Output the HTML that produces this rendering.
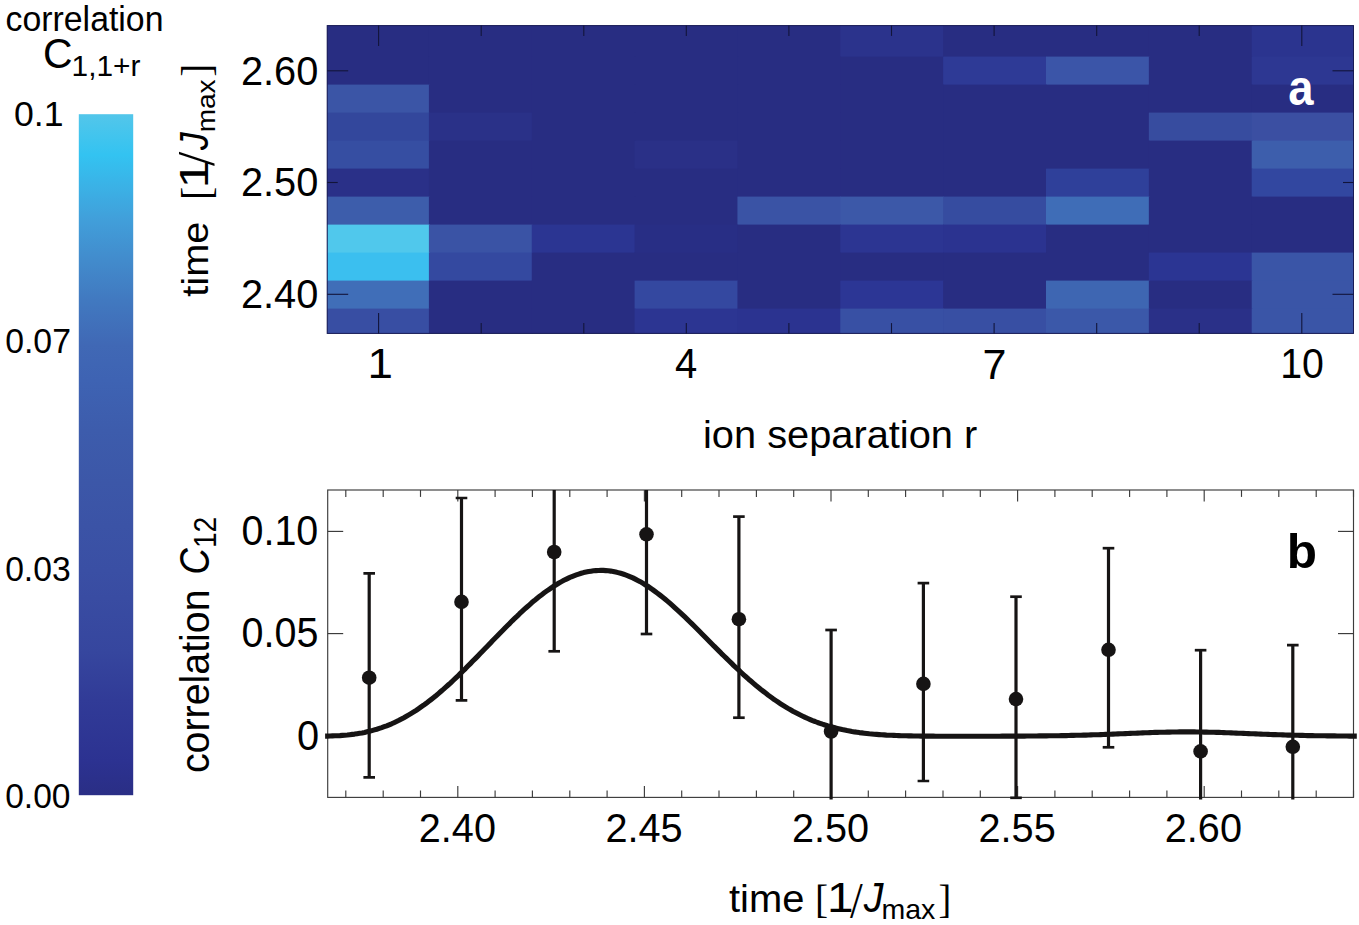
<!DOCTYPE html>
<html><head><meta charset="utf-8"><title>figure</title>
<style>html,body{margin:0;padding:0;background:#fff}svg{display:block}text{font-family:"Liberation Sans",sans-serif}text.s{font-family:"Liberation Serif",serif}</style></head>
<body><svg width="1359" height="925" viewBox="0 0 1359 925">
<rect width="1359" height="925" fill="#fff"/>
<defs><linearGradient id="cb" x1="0" y1="1" x2="0" y2="0">
<stop offset="0.000" stop-color="#2A2E85"/>
<stop offset="0.050" stop-color="#2C3291"/>
<stop offset="0.140" stop-color="#313B97"/>
<stop offset="0.210" stop-color="#36469E"/>
<stop offset="0.290" stop-color="#394CA2"/>
<stop offset="0.330" stop-color="#3A4FA4"/>
<stop offset="0.460" stop-color="#3C57A8"/>
<stop offset="0.535" stop-color="#3D5CAC"/>
<stop offset="0.610" stop-color="#3E63B3"/>
<stop offset="0.660" stop-color="#4068B5"/>
<stop offset="0.727" stop-color="#4179C0"/>
<stop offset="0.785" stop-color="#428BCC"/>
<stop offset="0.845" stop-color="#419FDA"/>
<stop offset="0.890" stop-color="#3BB0E5"/>
<stop offset="0.940" stop-color="#33C3F1"/>
<stop offset="1.000" stop-color="#53C6EA"/>
</linearGradient></defs>
<rect x="78.8" y="114.2" width="54.4" height="681.0" fill="url(#cb)"/>
<text transform="translate(5.56,30.96) scale(0.08459,0.08571)" font-size="400" fill="#000" >correlation</text>
<text transform="translate(42.95,68.38) scale(0.10237,0.10495)" font-size="400" fill="#000" >C</text>
<text transform="translate(71.56,75.96) scale(0.07463,0.07439)" font-size="400" fill="#000" >1,1+r</text>
<text transform="translate(14.02,126.24) scale(0.08910,0.08958)" font-size="400" fill="#000" >0.1</text>
<text transform="translate(5.15,353.34) scale(0.08450,0.08905)" font-size="400" fill="#000" >0.07</text>
<text transform="translate(5.15,580.64) scale(0.08416,0.08905)" font-size="400" fill="#000" >0.03</text>
<text transform="translate(5.16,807.74) scale(0.08394,0.08887)" font-size="400" fill="#000" >0.00</text>
<rect x="327.2" y="25.6" width="1026.3" height="307.8" fill="#282D82"/>
<rect x="327.20" y="25.60" width="102.40" height="31.70" fill="#282D82"/>
<rect x="428.90" y="25.60" width="103.55" height="31.70" fill="#282D82"/>
<rect x="531.75" y="25.60" width="103.55" height="31.70" fill="#282D82"/>
<rect x="634.60" y="25.60" width="103.55" height="31.70" fill="#282D82"/>
<rect x="737.45" y="25.60" width="103.55" height="31.70" fill="#282D82"/>
<rect x="840.30" y="25.60" width="103.55" height="31.70" fill="#2B338C"/>
<rect x="943.15" y="25.60" width="103.55" height="31.70" fill="#282D82"/>
<rect x="1046.00" y="25.60" width="103.55" height="31.70" fill="#282D82"/>
<rect x="1148.85" y="25.60" width="103.55" height="31.70" fill="#282D82"/>
<rect x="1251.70" y="25.60" width="101.80" height="31.70" fill="#2B348F"/>
<rect x="327.20" y="56.60" width="102.40" height="28.70" fill="#282D82"/>
<rect x="428.90" y="56.60" width="103.55" height="28.70" fill="#282D82"/>
<rect x="531.75" y="56.60" width="103.55" height="28.70" fill="#282D82"/>
<rect x="634.60" y="56.60" width="103.55" height="28.70" fill="#282D82"/>
<rect x="737.45" y="56.60" width="103.55" height="28.70" fill="#282D82"/>
<rect x="840.30" y="56.60" width="103.55" height="28.70" fill="#282D82"/>
<rect x="943.15" y="56.60" width="103.55" height="28.70" fill="#2E3A96"/>
<rect x="1046.00" y="56.60" width="103.55" height="28.70" fill="#3B55A8"/>
<rect x="1148.85" y="56.60" width="103.55" height="28.70" fill="#282D82"/>
<rect x="1251.70" y="56.60" width="101.80" height="28.70" fill="#2D3792"/>
<rect x="327.20" y="84.60" width="102.40" height="28.70" fill="#3B55A6"/>
<rect x="428.90" y="84.60" width="103.55" height="28.70" fill="#282D82"/>
<rect x="531.75" y="84.60" width="103.55" height="28.70" fill="#282D82"/>
<rect x="634.60" y="84.60" width="103.55" height="28.70" fill="#282D82"/>
<rect x="737.45" y="84.60" width="103.55" height="28.70" fill="#282D82"/>
<rect x="840.30" y="84.60" width="103.55" height="28.70" fill="#282D82"/>
<rect x="943.15" y="84.60" width="103.55" height="28.70" fill="#282D82"/>
<rect x="1046.00" y="84.60" width="103.55" height="28.70" fill="#282D82"/>
<rect x="1148.85" y="84.60" width="103.55" height="28.70" fill="#282D82"/>
<rect x="1251.70" y="84.60" width="101.80" height="28.70" fill="#282D82"/>
<rect x="327.20" y="112.60" width="102.40" height="28.70" fill="#33479C"/>
<rect x="428.90" y="112.60" width="103.55" height="28.70" fill="#2A3188"/>
<rect x="531.75" y="112.60" width="103.55" height="28.70" fill="#282D82"/>
<rect x="634.60" y="112.60" width="103.55" height="28.70" fill="#282D82"/>
<rect x="737.45" y="112.60" width="103.55" height="28.70" fill="#282D82"/>
<rect x="840.30" y="112.60" width="103.55" height="28.70" fill="#282D82"/>
<rect x="943.15" y="112.60" width="103.55" height="28.70" fill="#282D82"/>
<rect x="1046.00" y="112.60" width="103.55" height="28.70" fill="#282D82"/>
<rect x="1148.85" y="112.60" width="103.55" height="28.70" fill="#374C9F"/>
<rect x="1251.70" y="112.60" width="101.80" height="28.70" fill="#3B4FA2"/>
<rect x="327.20" y="140.60" width="102.40" height="28.70" fill="#364EA2"/>
<rect x="428.90" y="140.60" width="103.55" height="28.70" fill="#282D82"/>
<rect x="531.75" y="140.60" width="103.55" height="28.70" fill="#282D82"/>
<rect x="634.60" y="140.60" width="103.55" height="28.70" fill="#2A3087"/>
<rect x="737.45" y="140.60" width="103.55" height="28.70" fill="#282D82"/>
<rect x="840.30" y="140.60" width="103.55" height="28.70" fill="#282D82"/>
<rect x="943.15" y="140.60" width="103.55" height="28.70" fill="#282D82"/>
<rect x="1046.00" y="140.60" width="103.55" height="28.70" fill="#282D82"/>
<rect x="1148.85" y="140.60" width="103.55" height="28.70" fill="#282D82"/>
<rect x="1251.70" y="140.60" width="101.80" height="28.70" fill="#3D5EAC"/>
<rect x="327.20" y="168.60" width="102.40" height="28.70" fill="#2A3088"/>
<rect x="428.90" y="168.60" width="103.55" height="28.70" fill="#282D82"/>
<rect x="531.75" y="168.60" width="103.55" height="28.70" fill="#282D82"/>
<rect x="634.60" y="168.60" width="103.55" height="28.70" fill="#282D82"/>
<rect x="737.45" y="168.60" width="103.55" height="28.70" fill="#282D82"/>
<rect x="840.30" y="168.60" width="103.55" height="28.70" fill="#282D82"/>
<rect x="943.15" y="168.60" width="103.55" height="28.70" fill="#282D82"/>
<rect x="1046.00" y="168.60" width="103.55" height="28.70" fill="#2F409A"/>
<rect x="1148.85" y="168.60" width="103.55" height="28.70" fill="#282D82"/>
<rect x="1251.70" y="168.60" width="101.80" height="28.70" fill="#3247A0"/>
<rect x="327.20" y="196.60" width="102.40" height="28.70" fill="#3D5DAB"/>
<rect x="428.90" y="196.60" width="103.55" height="28.70" fill="#282D82"/>
<rect x="531.75" y="196.60" width="103.55" height="28.70" fill="#282D82"/>
<rect x="634.60" y="196.60" width="103.55" height="28.70" fill="#282D82"/>
<rect x="737.45" y="196.60" width="103.55" height="28.70" fill="#3A53A5"/>
<rect x="840.30" y="196.60" width="103.55" height="28.70" fill="#3C58A8"/>
<rect x="943.15" y="196.60" width="103.55" height="28.70" fill="#364CA0"/>
<rect x="1046.00" y="196.60" width="103.55" height="28.70" fill="#3F6DB7"/>
<rect x="1148.85" y="196.60" width="103.55" height="28.70" fill="#282D82"/>
<rect x="1251.70" y="196.60" width="101.80" height="28.70" fill="#282D82"/>
<rect x="327.20" y="224.60" width="102.40" height="28.70" fill="#50C8EC"/>
<rect x="428.90" y="224.60" width="103.55" height="28.70" fill="#3A53A5"/>
<rect x="531.75" y="224.60" width="103.55" height="28.70" fill="#2B3592"/>
<rect x="634.60" y="224.60" width="103.55" height="28.70" fill="#282E85"/>
<rect x="737.45" y="224.60" width="103.55" height="28.70" fill="#282D82"/>
<rect x="840.30" y="224.60" width="103.55" height="28.70" fill="#2C3592"/>
<rect x="943.15" y="224.60" width="103.55" height="28.70" fill="#2B3390"/>
<rect x="1046.00" y="224.60" width="103.55" height="28.70" fill="#282D82"/>
<rect x="1148.85" y="224.60" width="103.55" height="28.70" fill="#282D82"/>
<rect x="1251.70" y="224.60" width="101.80" height="28.70" fill="#282D82"/>
<rect x="327.20" y="252.60" width="102.40" height="28.70" fill="#3BBFEF"/>
<rect x="428.90" y="252.60" width="103.55" height="28.70" fill="#3449A0"/>
<rect x="531.75" y="252.60" width="103.55" height="28.70" fill="#282D82"/>
<rect x="634.60" y="252.60" width="103.55" height="28.70" fill="#282D82"/>
<rect x="737.45" y="252.60" width="103.55" height="28.70" fill="#282D82"/>
<rect x="840.30" y="252.60" width="103.55" height="28.70" fill="#282D82"/>
<rect x="943.15" y="252.60" width="103.55" height="28.70" fill="#282D82"/>
<rect x="1046.00" y="252.60" width="103.55" height="28.70" fill="#282D82"/>
<rect x="1148.85" y="252.60" width="103.55" height="28.70" fill="#2B3593"/>
<rect x="1251.70" y="252.60" width="101.80" height="28.70" fill="#3A55A7"/>
<rect x="327.20" y="280.60" width="102.40" height="28.70" fill="#406EB8"/>
<rect x="428.90" y="280.60" width="103.55" height="28.70" fill="#282D82"/>
<rect x="531.75" y="280.60" width="103.55" height="28.70" fill="#282D82"/>
<rect x="634.60" y="280.60" width="103.55" height="28.70" fill="#3448A0"/>
<rect x="737.45" y="280.60" width="103.55" height="28.70" fill="#282D82"/>
<rect x="840.30" y="280.60" width="103.55" height="28.70" fill="#2C3695"/>
<rect x="943.15" y="280.60" width="103.55" height="28.70" fill="#282D82"/>
<rect x="1046.00" y="280.60" width="103.55" height="28.70" fill="#3E66B2"/>
<rect x="1148.85" y="280.60" width="103.55" height="28.70" fill="#282D82"/>
<rect x="1251.70" y="280.60" width="101.80" height="28.70" fill="#3A55A7"/>
<rect x="327.20" y="308.60" width="102.40" height="24.80" fill="#384EA3"/>
<rect x="428.90" y="308.60" width="103.55" height="24.80" fill="#282D82"/>
<rect x="531.75" y="308.60" width="103.55" height="24.80" fill="#282D82"/>
<rect x="634.60" y="308.60" width="103.55" height="24.80" fill="#2C3592"/>
<rect x="737.45" y="308.60" width="103.55" height="24.80" fill="#2B3390"/>
<rect x="840.30" y="308.60" width="103.55" height="24.80" fill="#3850A4"/>
<rect x="943.15" y="308.60" width="103.55" height="24.80" fill="#384FA3"/>
<rect x="1046.00" y="308.60" width="103.55" height="24.80" fill="#3B58A9"/>
<rect x="1148.85" y="308.60" width="103.55" height="24.80" fill="#2A3088"/>
<rect x="1251.70" y="308.60" width="101.80" height="24.80" fill="#3A55A7"/>
<rect x="327.2" y="25.6" width="1026.3" height="307.8" fill="none" stroke="#191C55" stroke-width="1"/>
<line x1="378.6" y1="25.6" x2="378.6" y2="46.1" stroke="#12143A" stroke-width="1.1"/>
<line x1="378.6" y1="333.4" x2="378.6" y2="312.9" stroke="#12143A" stroke-width="1.1"/>
<line x1="481.2" y1="25.6" x2="481.2" y2="35.9" stroke="#12143A" stroke-width="1.1"/>
<line x1="481.2" y1="333.4" x2="481.2" y2="323.1" stroke="#12143A" stroke-width="1.1"/>
<line x1="583.8" y1="25.6" x2="583.8" y2="35.9" stroke="#12143A" stroke-width="1.1"/>
<line x1="583.8" y1="333.4" x2="583.8" y2="323.1" stroke="#12143A" stroke-width="1.1"/>
<line x1="686.3" y1="25.6" x2="686.3" y2="35.9" stroke="#12143A" stroke-width="1.1"/>
<line x1="686.3" y1="333.4" x2="686.3" y2="323.1" stroke="#12143A" stroke-width="1.1"/>
<line x1="788.9" y1="25.6" x2="788.9" y2="35.9" stroke="#12143A" stroke-width="1.1"/>
<line x1="788.9" y1="333.4" x2="788.9" y2="323.1" stroke="#12143A" stroke-width="1.1"/>
<line x1="891.5" y1="25.6" x2="891.5" y2="35.9" stroke="#12143A" stroke-width="1.1"/>
<line x1="891.5" y1="333.4" x2="891.5" y2="323.1" stroke="#12143A" stroke-width="1.1"/>
<line x1="994.1" y1="25.6" x2="994.1" y2="35.9" stroke="#12143A" stroke-width="1.1"/>
<line x1="994.1" y1="333.4" x2="994.1" y2="323.1" stroke="#12143A" stroke-width="1.1"/>
<line x1="1096.7" y1="25.6" x2="1096.7" y2="35.9" stroke="#12143A" stroke-width="1.1"/>
<line x1="1096.7" y1="333.4" x2="1096.7" y2="323.1" stroke="#12143A" stroke-width="1.1"/>
<line x1="1199.2" y1="25.6" x2="1199.2" y2="35.9" stroke="#12143A" stroke-width="1.1"/>
<line x1="1199.2" y1="333.4" x2="1199.2" y2="323.1" stroke="#12143A" stroke-width="1.1"/>
<line x1="1301.8" y1="25.6" x2="1301.8" y2="46.1" stroke="#12143A" stroke-width="1.1"/>
<line x1="1301.8" y1="333.4" x2="1301.8" y2="312.9" stroke="#12143A" stroke-width="1.1"/>
<line x1="327.2" y1="70.8" x2="348.2" y2="70.8" stroke="#12143A" stroke-width="1.1"/>
<line x1="1353.5" y1="70.8" x2="1332.5" y2="70.8" stroke="#12143A" stroke-width="1.1"/>
<line x1="327.2" y1="182.5" x2="337.7" y2="182.5" stroke="#12143A" stroke-width="1.1"/>
<line x1="1353.5" y1="182.5" x2="1343.0" y2="182.5" stroke="#12143A" stroke-width="1.1"/>
<line x1="327.2" y1="294.3" x2="348.2" y2="294.3" stroke="#12143A" stroke-width="1.1"/>
<line x1="1353.5" y1="294.3" x2="1332.5" y2="294.3" stroke="#12143A" stroke-width="1.1"/>
<text transform="translate(240.91,84.59) scale(0.09946,0.10318)" font-size="400" fill="#000" >2.60</text>
<text transform="translate(240.91,196.49) scale(0.09946,0.10318)" font-size="400" fill="#000" >2.50</text>
<text transform="translate(240.91,308.39) scale(0.09946,0.10318)" font-size="400" fill="#000" >2.40</text>
<text transform="translate(367.56,378.40) scale(0.11429,0.10691)" font-size="400" fill="#000" >1</text>
<text transform="translate(675.00,378.40) scale(0.10000,0.10509)" font-size="400" fill="#000" >4</text>
<text transform="translate(982.44,378.60) scale(0.10773,0.10436)" font-size="400" fill="#000" >7</text>
<text transform="translate(1280.27,378.48) scale(0.09821,0.10565)" font-size="400" fill="#000" >10</text>
<text transform="translate(703.01,447.63) scale(0.09949,0.09839)" font-size="400" fill="#000" >ion separation r</text>
<text transform="translate(1288.34,104.81) scale(0.11362,0.12374)" font-size="400" fill="#fff"  font-weight="bold">a</text>
<text transform="translate(208.13,296.70) rotate(-90) scale(0.09918,0.09354)" font-size="400" fill="#000" >time</text>
<text transform="translate(209.54,199.97) rotate(-90) scale(0.09888,0.10301)" font-size="400" fill="#000" class="s">[</text>
<text transform="translate(207.80,188.13) rotate(-90) scale(0.12449,0.10000)" font-size="400" fill="#000" >1</text>
<text transform="translate(214.08,165.90) rotate(-90) scale(0.12883,0.12985)" font-size="400" fill="#000" class="s">/</text>
<text transform="translate(207.89,149.91) rotate(-90) scale(0.08873,0.10215)" font-size="400" fill="#000"  font-style="italic">J</text>
<text transform="translate(215.33,132.29) rotate(-90) scale(0.07003,0.06667)" font-size="400" fill="#000" >max</text>
<text transform="translate(209.54,76.74) rotate(-90) scale(0.09556,0.10301)" font-size="400" fill="#000" class="s">]</text>
<clipPath id="pc"><rect x="324.7" y="490.0" width="1031.8" height="309.6"/></clipPath>
<rect x="327.7" y="490.0" width="1025.8" height="307.4" fill="none" stroke="#3c3c3c" stroke-width="1.15"/>
<line x1="345.8" y1="797.4" x2="345.8" y2="790.5" stroke="#3c3c3c" stroke-width="1.15"/>
<line x1="345.8" y1="490.0" x2="345.8" y2="496.9" stroke="#3c3c3c" stroke-width="1.15"/>
<line x1="383.2" y1="797.4" x2="383.2" y2="790.5" stroke="#3c3c3c" stroke-width="1.15"/>
<line x1="383.2" y1="490.0" x2="383.2" y2="496.9" stroke="#3c3c3c" stroke-width="1.15"/>
<line x1="420.5" y1="797.4" x2="420.5" y2="790.5" stroke="#3c3c3c" stroke-width="1.15"/>
<line x1="420.5" y1="490.0" x2="420.5" y2="496.9" stroke="#3c3c3c" stroke-width="1.15"/>
<line x1="457.8" y1="797.4" x2="457.8" y2="785.9" stroke="#3c3c3c" stroke-width="1.15"/>
<line x1="457.8" y1="490.0" x2="457.8" y2="501.5" stroke="#3c3c3c" stroke-width="1.15"/>
<line x1="495.1" y1="797.4" x2="495.1" y2="790.5" stroke="#3c3c3c" stroke-width="1.15"/>
<line x1="495.1" y1="490.0" x2="495.1" y2="496.9" stroke="#3c3c3c" stroke-width="1.15"/>
<line x1="532.4" y1="797.4" x2="532.4" y2="790.5" stroke="#3c3c3c" stroke-width="1.15"/>
<line x1="532.4" y1="490.0" x2="532.4" y2="496.9" stroke="#3c3c3c" stroke-width="1.15"/>
<line x1="569.8" y1="797.4" x2="569.8" y2="790.5" stroke="#3c3c3c" stroke-width="1.15"/>
<line x1="569.8" y1="490.0" x2="569.8" y2="496.9" stroke="#3c3c3c" stroke-width="1.15"/>
<line x1="607.1" y1="797.4" x2="607.1" y2="790.5" stroke="#3c3c3c" stroke-width="1.15"/>
<line x1="607.1" y1="490.0" x2="607.1" y2="496.9" stroke="#3c3c3c" stroke-width="1.15"/>
<line x1="644.4" y1="797.4" x2="644.4" y2="785.9" stroke="#3c3c3c" stroke-width="1.15"/>
<line x1="644.4" y1="490.0" x2="644.4" y2="501.5" stroke="#3c3c3c" stroke-width="1.15"/>
<line x1="681.7" y1="797.4" x2="681.7" y2="790.5" stroke="#3c3c3c" stroke-width="1.15"/>
<line x1="681.7" y1="490.0" x2="681.7" y2="496.9" stroke="#3c3c3c" stroke-width="1.15"/>
<line x1="719.0" y1="797.4" x2="719.0" y2="790.5" stroke="#3c3c3c" stroke-width="1.15"/>
<line x1="719.0" y1="490.0" x2="719.0" y2="496.9" stroke="#3c3c3c" stroke-width="1.15"/>
<line x1="756.4" y1="797.4" x2="756.4" y2="790.5" stroke="#3c3c3c" stroke-width="1.15"/>
<line x1="756.4" y1="490.0" x2="756.4" y2="496.9" stroke="#3c3c3c" stroke-width="1.15"/>
<line x1="793.7" y1="797.4" x2="793.7" y2="790.5" stroke="#3c3c3c" stroke-width="1.15"/>
<line x1="793.7" y1="490.0" x2="793.7" y2="496.9" stroke="#3c3c3c" stroke-width="1.15"/>
<line x1="831.0" y1="797.4" x2="831.0" y2="785.9" stroke="#3c3c3c" stroke-width="1.15"/>
<line x1="831.0" y1="490.0" x2="831.0" y2="501.5" stroke="#3c3c3c" stroke-width="1.15"/>
<line x1="868.3" y1="797.4" x2="868.3" y2="790.5" stroke="#3c3c3c" stroke-width="1.15"/>
<line x1="868.3" y1="490.0" x2="868.3" y2="496.9" stroke="#3c3c3c" stroke-width="1.15"/>
<line x1="905.6" y1="797.4" x2="905.6" y2="790.5" stroke="#3c3c3c" stroke-width="1.15"/>
<line x1="905.6" y1="490.0" x2="905.6" y2="496.9" stroke="#3c3c3c" stroke-width="1.15"/>
<line x1="943.0" y1="797.4" x2="943.0" y2="790.5" stroke="#3c3c3c" stroke-width="1.15"/>
<line x1="943.0" y1="490.0" x2="943.0" y2="496.9" stroke="#3c3c3c" stroke-width="1.15"/>
<line x1="980.3" y1="797.4" x2="980.3" y2="790.5" stroke="#3c3c3c" stroke-width="1.15"/>
<line x1="980.3" y1="490.0" x2="980.3" y2="496.9" stroke="#3c3c3c" stroke-width="1.15"/>
<line x1="1017.6" y1="797.4" x2="1017.6" y2="785.9" stroke="#3c3c3c" stroke-width="1.15"/>
<line x1="1017.6" y1="490.0" x2="1017.6" y2="501.5" stroke="#3c3c3c" stroke-width="1.15"/>
<line x1="1054.9" y1="797.4" x2="1054.9" y2="790.5" stroke="#3c3c3c" stroke-width="1.15"/>
<line x1="1054.9" y1="490.0" x2="1054.9" y2="496.9" stroke="#3c3c3c" stroke-width="1.15"/>
<line x1="1092.2" y1="797.4" x2="1092.2" y2="790.5" stroke="#3c3c3c" stroke-width="1.15"/>
<line x1="1092.2" y1="490.0" x2="1092.2" y2="496.9" stroke="#3c3c3c" stroke-width="1.15"/>
<line x1="1129.6" y1="797.4" x2="1129.6" y2="790.5" stroke="#3c3c3c" stroke-width="1.15"/>
<line x1="1129.6" y1="490.0" x2="1129.6" y2="496.9" stroke="#3c3c3c" stroke-width="1.15"/>
<line x1="1166.9" y1="797.4" x2="1166.9" y2="790.5" stroke="#3c3c3c" stroke-width="1.15"/>
<line x1="1166.9" y1="490.0" x2="1166.9" y2="496.9" stroke="#3c3c3c" stroke-width="1.15"/>
<line x1="1204.2" y1="797.4" x2="1204.2" y2="785.9" stroke="#3c3c3c" stroke-width="1.15"/>
<line x1="1204.2" y1="490.0" x2="1204.2" y2="501.5" stroke="#3c3c3c" stroke-width="1.15"/>
<line x1="1241.5" y1="797.4" x2="1241.5" y2="790.5" stroke="#3c3c3c" stroke-width="1.15"/>
<line x1="1241.5" y1="490.0" x2="1241.5" y2="496.9" stroke="#3c3c3c" stroke-width="1.15"/>
<line x1="1278.8" y1="797.4" x2="1278.8" y2="790.5" stroke="#3c3c3c" stroke-width="1.15"/>
<line x1="1278.8" y1="490.0" x2="1278.8" y2="496.9" stroke="#3c3c3c" stroke-width="1.15"/>
<line x1="1316.2" y1="797.4" x2="1316.2" y2="790.5" stroke="#3c3c3c" stroke-width="1.15"/>
<line x1="1316.2" y1="490.0" x2="1316.2" y2="496.9" stroke="#3c3c3c" stroke-width="1.15"/>
<line x1="1353.5" y1="797.4" x2="1353.5" y2="790.5" stroke="#3c3c3c" stroke-width="1.15"/>
<line x1="1353.5" y1="490.0" x2="1353.5" y2="496.9" stroke="#3c3c3c" stroke-width="1.15"/>
<line x1="327.7" y1="735.8" x2="343.2" y2="735.8" stroke="#3c3c3c" stroke-width="1.15"/>
<line x1="1353.5" y1="735.8" x2="1338.0" y2="735.8" stroke="#3c3c3c" stroke-width="1.15"/>
<line x1="327.7" y1="633.6" x2="343.2" y2="633.6" stroke="#3c3c3c" stroke-width="1.15"/>
<line x1="1353.5" y1="633.6" x2="1338.0" y2="633.6" stroke="#3c3c3c" stroke-width="1.15"/>
<line x1="327.7" y1="531.4" x2="343.2" y2="531.4" stroke="#3c3c3c" stroke-width="1.15"/>
<line x1="1353.5" y1="531.4" x2="1338.0" y2="531.4" stroke="#3c3c3c" stroke-width="1.15"/>
<text transform="translate(241.52,545.08) scale(0.09866,0.10459)" font-size="400" fill="#000" >0.10</text>
<text transform="translate(241.52,647.28) scale(0.09879,0.10459)" font-size="400" fill="#000" >0.05</text>
<text transform="translate(297.01,750.38) scale(0.09948,0.10530)" font-size="400" fill="#000" >0</text>
<text transform="translate(418.82,842.28) scale(0.09906,0.10389)" font-size="400" fill="#000" >2.40</text>
<text transform="translate(605.42,842.28) scale(0.09919,0.10389)" font-size="400" fill="#000" >2.45</text>
<text transform="translate(792.02,842.28) scale(0.09906,0.10389)" font-size="400" fill="#000" >2.50</text>
<text transform="translate(978.52,842.28) scale(0.09919,0.10389)" font-size="400" fill="#000" >2.55</text>
<text transform="translate(1164.82,842.28) scale(0.09906,0.10389)" font-size="400" fill="#000" >2.60</text>
<text transform="translate(729.00,911.91) scale(0.09986,0.09830)" font-size="400" fill="#000" >time</text>
<text transform="translate(815.07,912.85) scale(0.09775,0.10090)" font-size="400" fill="#000" class="s">[</text>
<text transform="translate(826.96,911.90) scale(0.11939,0.10545)" font-size="400" fill="#000" >1</text>
<text transform="translate(850.10,917.30) scale(0.11441,0.12500)" font-size="400" fill="#000" class="s">/</text>
<text transform="translate(863.80,912.17) scale(0.09853,0.10645)" font-size="400" fill="#000"  font-style="italic">J</text>
<text transform="translate(881.48,919.22) scale(0.07127,0.07078)" font-size="400" fill="#000" >max</text>
<text transform="translate(938.46,912.85) scale(0.09556,0.10090)" font-size="400" fill="#000" class="s">]</text>
<text transform="translate(208.60,773.07) rotate(-90) scale(0.09836,0.09932)" font-size="400" fill="#000" >correlation</text>
<text transform="translate(208.97,574.60) rotate(-90) scale(0.09108,0.10707)" font-size="400" fill="#000"  font-style="italic">C</text>
<text transform="translate(216.20,548.08) rotate(-90) scale(0.07047,0.07885)" font-size="400" fill="#000" >12</text>
<text transform="translate(1286.78,568.22) scale(0.12376,0.11905)" font-size="400" fill="#000"  font-weight="bold">b</text>
<path d="M325.1,736.1L327.6,736.1L330.0,736.0L332.5,735.9L334.9,735.8L337.4,735.7L339.9,735.6L342.3,735.4L344.8,735.2L347.3,735.0L349.7,734.7L352.2,734.4L354.6,734.1L357.1,733.7L359.6,733.3L362.0,732.9L364.5,732.4L367.0,731.8L369.4,731.3L371.9,730.6L374.3,729.9L376.8,729.2L379.3,728.4L381.7,727.6L384.2,726.7L386.7,725.8L389.1,724.8L391.6,723.8L394.0,722.7L396.5,721.5L399.0,720.3L401.4,719.0L403.9,717.7L406.4,716.3L408.8,714.9L411.3,713.4L413.7,711.9L416.2,710.3L418.7,708.6L421.1,706.9L423.6,705.2L426.1,703.4L428.5,701.5L431.0,699.6L433.4,697.7L435.9,695.7L438.4,693.6L440.8,691.5L443.3,689.4L445.8,687.2L448.2,685.0L450.7,682.8L453.1,680.5L455.6,678.2L458.1,675.8L460.5,673.4L463.0,671.0L465.5,668.6L467.9,666.1L470.4,663.6L472.8,661.1L475.3,658.6L477.8,656.1L480.2,653.6L482.7,651.0L485.1,648.5L487.6,645.9L490.1,643.4L492.5,640.8L495.0,638.3L497.5,635.7L499.9,633.2L502.4,630.7L504.8,628.2L507.3,625.7L509.8,623.3L512.2,620.8L514.7,618.4L517.2,616.1L519.6,613.7L522.1,611.4L524.5,609.2L527.0,607.0L529.5,604.8L531.9,602.6L534.4,600.6L536.9,598.5L539.3,596.6L541.8,594.7L544.2,592.8L546.7,591.0L549.2,589.3L551.6,587.6L554.1,586.0L556.6,584.5L559.0,583.0L561.5,581.6L563.9,580.3L566.4,579.1L568.9,577.9L571.3,576.8L573.8,575.8L576.3,574.9L578.7,574.1L581.2,573.3L583.6,572.6L586.1,572.1L588.6,571.6L591.0,571.2L593.5,570.8L596.0,570.6L598.4,570.5L600.9,570.4L603.3,570.4L605.8,570.6L608.3,570.8L610.7,571.1L613.2,571.5L615.7,572.0L618.1,572.6L620.6,573.3L623.0,574.0L625.5,574.9L628.0,575.8L630.4,576.8L632.9,577.9L635.3,579.1L637.8,580.4L640.3,581.7L642.7,583.2L645.2,584.7L647.7,586.2L650.1,587.9L652.6,589.6L655.0,591.4L657.5,593.2L660.0,595.1L662.4,597.0L664.9,599.0L667.4,601.1L669.8,603.2L672.3,605.4L674.7,607.6L677.2,609.8L679.7,612.1L682.1,614.4L684.6,616.7L687.1,619.1L689.5,621.5L692.0,623.9L694.4,626.3L696.9,628.8L699.4,631.3L701.8,633.7L704.3,636.2L706.8,638.7L709.2,641.2L711.7,643.7L714.1,646.2L716.6,648.6L719.1,651.1L721.5,653.6L724.0,656.0L726.5,658.4L728.9,660.8L731.4,663.2L733.8,665.6L736.3,667.9L738.8,670.2L741.2,672.5L743.7,674.8L746.2,677.0L748.6,679.2L751.1,681.3L753.5,683.4L756.0,685.5L758.5,687.5L760.9,689.5L763.4,691.4L765.9,693.3L768.3,695.2L770.8,697.0L773.2,698.8L775.7,700.5L778.2,702.2L780.6,703.8L783.1,705.4L785.5,706.9L788.0,708.4L790.5,709.8L792.9,711.2L795.4,712.5L797.9,713.8L800.3,715.0L802.8,716.2L805.2,717.4L807.7,718.5L810.2,719.6L812.6,720.6L815.1,721.5L817.6,722.5L820.0,723.3L822.5,724.2L824.9,725.0L827.4,725.8L829.9,726.5L832.3,727.2L834.8,727.8L837.3,728.4L839.7,729.0L842.2,729.6L844.6,730.1L847.1,730.6L849.6,731.0L852.0,731.5L854.5,731.9L857.0,732.2L859.4,732.6L861.9,732.9L864.3,733.2L866.8,733.5L869.3,733.8L871.7,734.0L874.2,734.2L876.7,734.4L879.1,734.6L881.6,734.8L884.0,734.9L886.5,735.1L889.0,735.2L891.4,735.3L893.9,735.4L896.4,735.5L898.8,735.6L901.3,735.7L903.7,735.8L906.2,735.8L908.7,735.9L911.1,735.9L913.6,736.0L916.0,736.0L918.5,736.0L921.0,736.1L923.4,736.1L925.9,736.1L928.4,736.1L930.8,736.1L933.3,736.1L935.7,736.2L938.2,736.2L940.7,736.2L943.1,736.2L945.6,736.2L948.1,736.2L950.5,736.2L953.0,736.2L955.4,736.2L957.9,736.2L960.4,736.2L962.8,736.2L965.3,736.2L967.8,736.2L970.2,736.2L972.7,736.2L975.1,736.2L977.6,736.2L980.1,736.2L982.5,736.2L985.0,736.2L987.5,736.2L989.9,736.2L992.4,736.2L994.8,736.2L997.3,736.2L999.8,736.2L1002.2,736.1L1004.7,736.1L1007.2,736.1L1009.6,736.1L1012.1,736.1L1014.5,736.1L1017.0,736.1L1019.5,736.1L1021.9,736.1L1024.4,736.1L1026.9,736.0L1029.3,736.0L1031.8,736.0L1034.2,736.0L1036.7,736.0L1039.2,735.9L1041.6,735.9L1044.1,735.9L1046.6,735.9L1049.0,735.8L1051.5,735.8L1053.9,735.8L1056.4,735.7L1058.9,735.7L1061.3,735.6L1063.8,735.6L1066.2,735.6L1068.7,735.5L1071.2,735.4L1073.6,735.4L1076.1,735.3L1078.6,735.3L1081.0,735.2L1083.5,735.1L1085.9,735.1L1088.4,735.0L1090.9,734.9L1093.3,734.8L1095.8,734.7L1098.3,734.7L1100.7,734.6L1103.2,734.5L1105.6,734.4L1108.1,734.3L1110.6,734.2L1113.0,734.1L1115.5,734.0L1118.0,733.9L1120.4,733.8L1122.9,733.7L1125.3,733.6L1127.8,733.5L1130.3,733.4L1132.7,733.3L1135.2,733.2L1137.7,733.1L1140.1,733.0L1142.6,732.9L1145.0,732.8L1147.5,732.7L1150.0,732.6L1152.4,732.5L1154.9,732.4L1157.4,732.4L1159.8,732.3L1162.3,732.2L1164.7,732.2L1167.2,732.1L1169.7,732.1L1172.1,732.0L1174.6,732.0L1177.1,732.0L1179.5,731.9L1182.0,731.9L1184.4,731.9L1186.9,731.9L1189.4,731.9L1191.8,731.9L1194.3,731.9L1196.8,732.0L1199.2,732.0L1201.7,732.0L1204.1,732.1L1206.6,732.1L1209.1,732.2L1211.5,732.2L1214.0,732.3L1216.4,732.4L1218.9,732.4L1221.4,732.5L1223.8,732.6L1226.3,732.7L1228.8,732.8L1231.2,732.9L1233.7,733.0L1236.1,733.1L1238.6,733.2L1241.1,733.3L1243.5,733.4L1246.0,733.5L1248.5,733.6L1250.9,733.7L1253.4,733.8L1255.8,733.9L1258.3,734.0L1260.8,734.1L1263.2,734.2L1265.7,734.3L1268.2,734.4L1270.6,734.5L1273.1,734.6L1275.5,734.6L1278.0,734.7L1280.5,734.8L1282.9,734.9L1285.4,735.0L1287.9,735.1L1290.3,735.1L1292.8,735.2L1295.2,735.3L1297.7,735.3L1300.2,735.4L1302.6,735.4L1305.1,735.5L1307.6,735.6L1310.0,735.6L1312.5,735.6L1314.9,735.7L1317.4,735.7L1319.9,735.8L1322.3,735.8L1324.8,735.8L1327.3,735.9L1329.7,735.9L1332.2,735.9L1334.6,735.9L1337.1,736.0L1339.6,736.0L1342.0,736.0L1344.5,736.0L1347.0,736.0L1349.4,736.1L1351.9,736.1L1354.3,736.1L1356.8,736.1" fill="none" stroke="#161414" stroke-width="5.1" stroke-linejoin="round"/>
<g clip-path="url(#pc)">
<line x1="369.2" y1="573.4" x2="369.2" y2="777.4" stroke="#161414" stroke-width="3.2"/>
<line x1="363.4" y1="573.4" x2="375.0" y2="573.4" stroke="#161414" stroke-width="2.7"/>
<line x1="363.4" y1="777.4" x2="375.0" y2="777.4" stroke="#161414" stroke-width="2.7"/>
<circle cx="369.2" cy="677.7" r="7.3" fill="#161414"/>
<line x1="461.5" y1="498.0" x2="461.5" y2="700.3" stroke="#161414" stroke-width="3.2"/>
<line x1="455.7" y1="498.0" x2="467.3" y2="498.0" stroke="#161414" stroke-width="2.7"/>
<line x1="455.7" y1="700.3" x2="467.3" y2="700.3" stroke="#161414" stroke-width="2.7"/>
<circle cx="461.5" cy="601.9" r="7.3" fill="#161414"/>
<line x1="554.2" y1="470.0" x2="554.2" y2="651.3" stroke="#161414" stroke-width="3.2"/>
<line x1="548.4" y1="470.0" x2="560.0" y2="470.0" stroke="#161414" stroke-width="2.7"/>
<line x1="548.4" y1="651.3" x2="560.0" y2="651.3" stroke="#161414" stroke-width="2.7"/>
<circle cx="554.2" cy="552.0" r="7.3" fill="#161414"/>
<line x1="646.5" y1="470.0" x2="646.5" y2="634.0" stroke="#161414" stroke-width="3.2"/>
<line x1="640.7" y1="470.0" x2="652.3" y2="470.0" stroke="#161414" stroke-width="2.7"/>
<line x1="640.7" y1="634.0" x2="652.3" y2="634.0" stroke="#161414" stroke-width="2.7"/>
<circle cx="646.5" cy="534.3" r="7.3" fill="#161414"/>
<line x1="738.9" y1="516.6" x2="738.9" y2="717.7" stroke="#161414" stroke-width="3.2"/>
<line x1="733.1" y1="516.6" x2="744.7" y2="516.6" stroke="#161414" stroke-width="2.7"/>
<line x1="733.1" y1="717.7" x2="744.7" y2="717.7" stroke="#161414" stroke-width="2.7"/>
<circle cx="738.9" cy="619.2" r="7.3" fill="#161414"/>
<line x1="831.1" y1="630.0" x2="831.1" y2="830.0" stroke="#161414" stroke-width="3.2"/>
<line x1="825.3" y1="630.0" x2="836.9" y2="630.0" stroke="#161414" stroke-width="2.7"/>
<line x1="825.3" y1="830.0" x2="836.9" y2="830.0" stroke="#161414" stroke-width="2.7"/>
<circle cx="831.1" cy="731.5" r="7.3" fill="#161414"/>
<line x1="923.4" y1="583.1" x2="923.4" y2="781.0" stroke="#161414" stroke-width="3.2"/>
<line x1="917.6" y1="583.1" x2="929.2" y2="583.1" stroke="#161414" stroke-width="2.7"/>
<line x1="917.6" y1="781.0" x2="929.2" y2="781.0" stroke="#161414" stroke-width="2.7"/>
<circle cx="923.4" cy="683.9" r="7.3" fill="#161414"/>
<line x1="1016.0" y1="596.7" x2="1016.0" y2="797.8" stroke="#161414" stroke-width="3.2"/>
<line x1="1010.2" y1="596.7" x2="1021.8" y2="596.7" stroke="#161414" stroke-width="2.7"/>
<line x1="1010.2" y1="797.8" x2="1021.8" y2="797.8" stroke="#161414" stroke-width="2.7"/>
<circle cx="1016.0" cy="699.1" r="7.3" fill="#161414"/>
<line x1="1108.5" y1="548.2" x2="1108.5" y2="747.3" stroke="#161414" stroke-width="3.2"/>
<line x1="1102.7" y1="548.2" x2="1114.3" y2="548.2" stroke="#161414" stroke-width="2.7"/>
<line x1="1102.7" y1="747.3" x2="1114.3" y2="747.3" stroke="#161414" stroke-width="2.7"/>
<circle cx="1108.5" cy="649.8" r="7.3" fill="#161414"/>
<line x1="1200.6" y1="650.2" x2="1200.6" y2="850.0" stroke="#161414" stroke-width="3.2"/>
<line x1="1194.8" y1="650.2" x2="1206.4" y2="650.2" stroke="#161414" stroke-width="2.7"/>
<line x1="1194.8" y1="850.0" x2="1206.4" y2="850.0" stroke="#161414" stroke-width="2.7"/>
<circle cx="1200.6" cy="751.4" r="7.3" fill="#161414"/>
<line x1="1292.8" y1="645.2" x2="1292.8" y2="850.0" stroke="#161414" stroke-width="3.2"/>
<line x1="1287.0" y1="645.2" x2="1298.6" y2="645.2" stroke="#161414" stroke-width="2.7"/>
<line x1="1287.0" y1="850.0" x2="1298.6" y2="850.0" stroke="#161414" stroke-width="2.7"/>
<circle cx="1292.8" cy="746.8" r="7.3" fill="#161414"/>
</g>
</svg></body></html>
